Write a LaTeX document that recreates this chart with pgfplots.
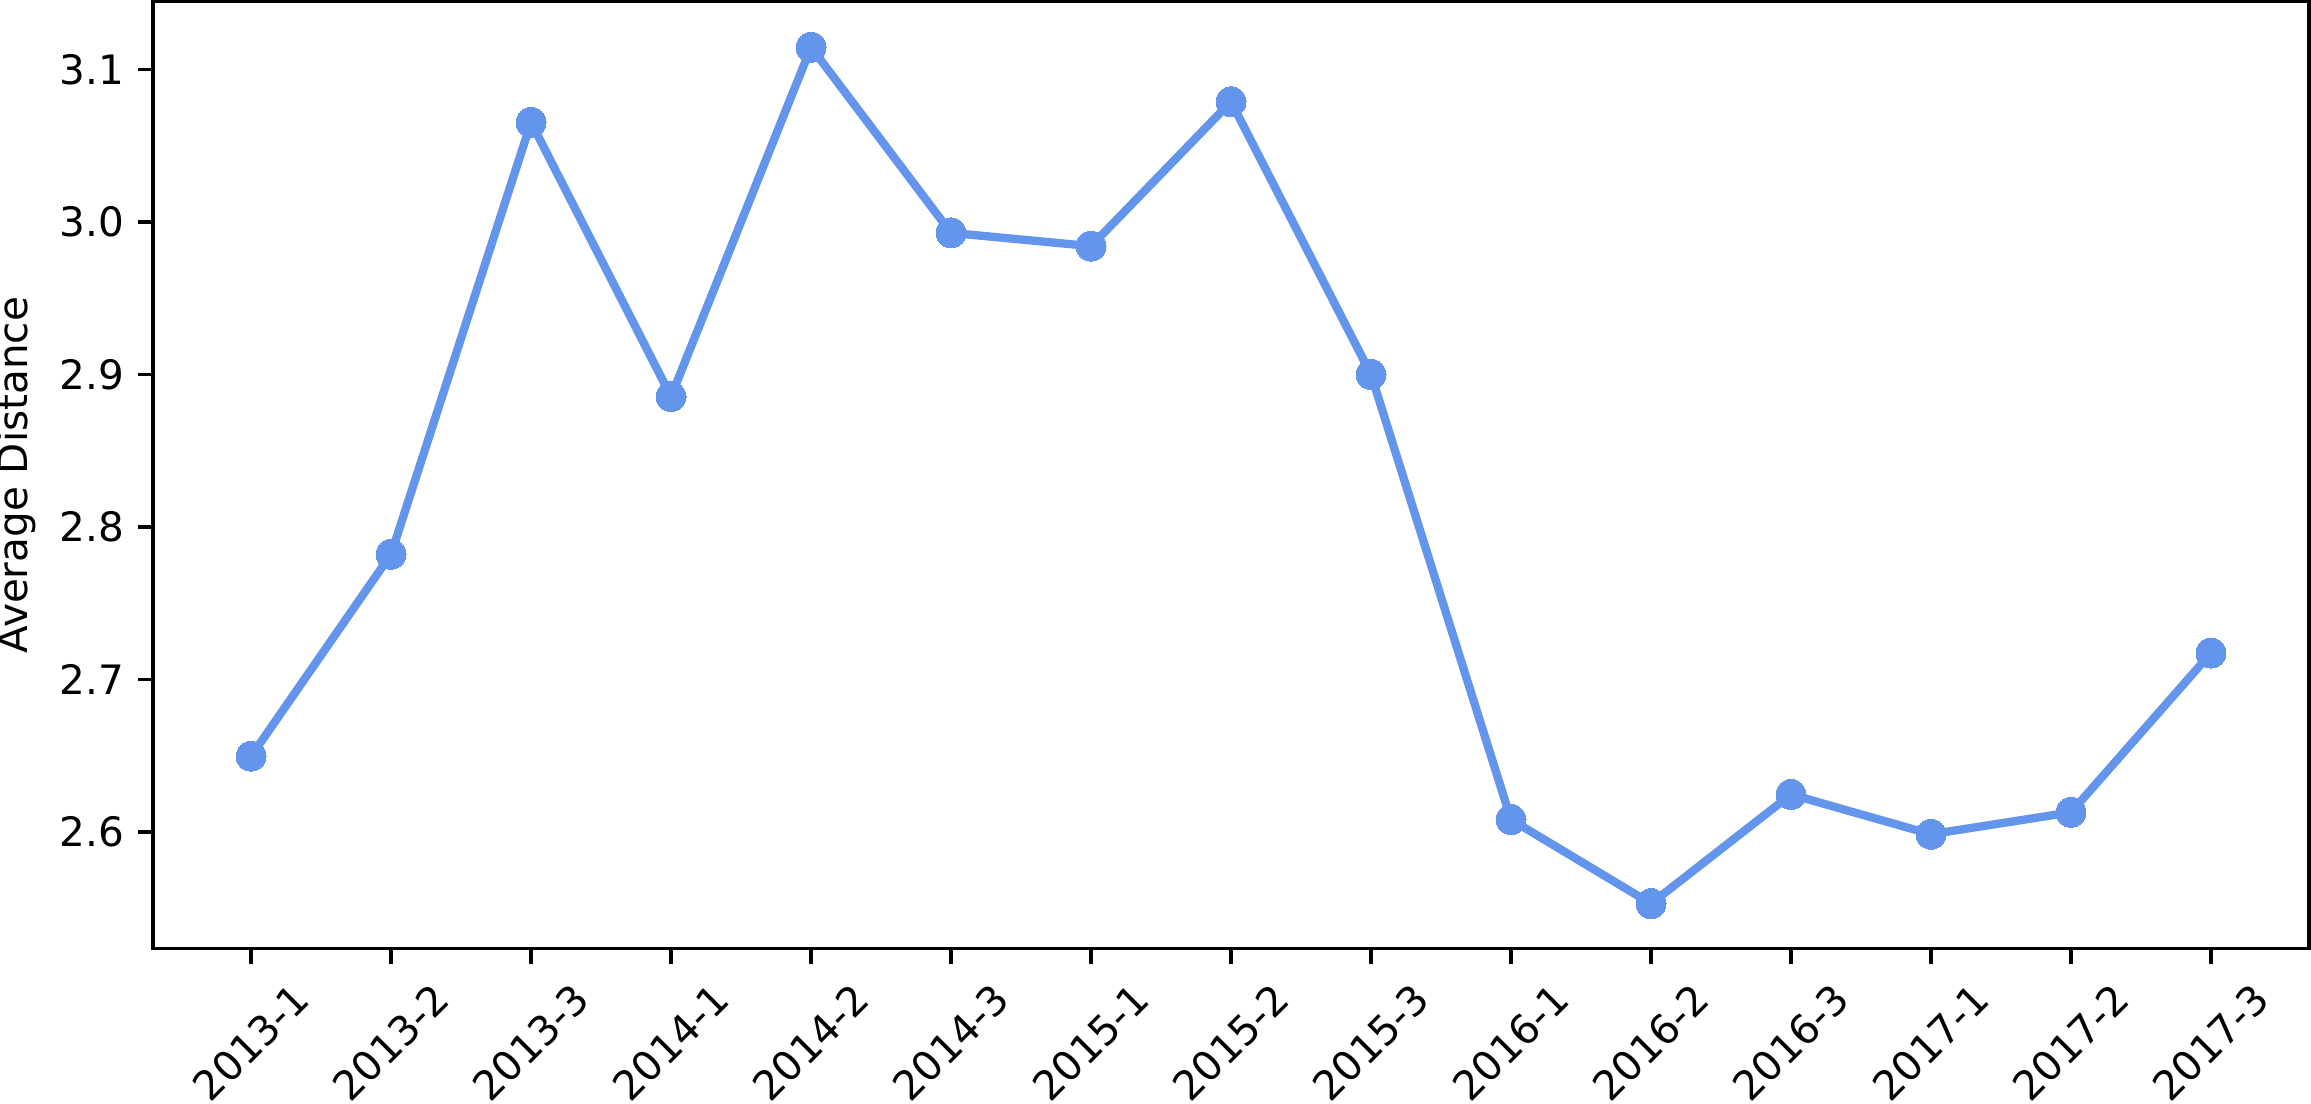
\documentclass[border=0pt]{standalone}
\usepackage{pgfplots}
\pgfplotsset{compat=1.18}
\usepackage{fontspec}
\setmainfont{DejaVu Sans}
\definecolor{cfblue}{HTML}{6495ED}
\tikzset{xl/.style={font=\fontsize{10}{12}\selectfont, inner sep=0pt, yshift=-23.2pt, rotate=45, anchor=center}}
\begin{document}
\begin{tikzpicture}
\begin{axis}[
  name=ax,
  clip=false,
  scale only axis,
  width=532.3pt, height=233.9pt,
  xmin=-0.7, xmax=14.7,
  ymin=2.5235, ymax=3.1446,
  xtick={0,...,14},
  xticklabels={},
  ytick={2.6,2.7,2.8,2.9,3.0,3.1},
  yticklabel style={/pgf/number format/fixed, /pgf/number format/fixed zerofill, /pgf/number format/precision=1},
  /pgf/number format/assume math mode=true,
  tick align=outside,
  tick pos=left,
  major tick length=3.63pt,
  axis line style={line width=0.82pt},
  every tick/.style={black, line width=0.82pt},
  ylabel={Average Distance},
  ylabel style={at={(axis description cs:-0.0633,0.5)}, anchor=center},
  tick label style={font=\fontsize{10}{12}\selectfont},
  label style={font=\fontsize{10}{12}\selectfont},
]
\addplot[color=cfblue, line width=2.05pt, mark=*, mark size=3.7pt, mark options={fill=cfblue, draw=cfblue, line width=0pt}] coordinates {
(0,2.6498) (1,2.7822) (2,3.0654) (3,2.8856) (4,3.1146) (5,2.9929) (6,2.9842) (7,3.0789) (8,2.9001) (9,2.6082) (10,2.5531) (11,2.6247) (12,2.5986) (13,2.6130) (14,2.7174)
};
\node[xl] at (axis cs:0,2.5235) {2013-1};
\node[xl] at (axis cs:1,2.5235) {2013-2};
\node[xl] at (axis cs:2,2.5235) {2013-3};
\node[xl] at (axis cs:3,2.5235) {2014-1};
\node[xl] at (axis cs:4,2.5235) {2014-2};
\node[xl] at (axis cs:5,2.5235) {2014-3};
\node[xl] at (axis cs:6,2.5235) {2015-1};
\node[xl] at (axis cs:7,2.5235) {2015-2};
\node[xl] at (axis cs:8,2.5235) {2015-3};
\node[xl] at (axis cs:9,2.5235) {2016-1};
\node[xl] at (axis cs:10,2.5235) {2016-2};
\node[xl] at (axis cs:11,2.5235) {2016-3};
\node[xl] at (axis cs:12,2.5235) {2017-1};
\node[xl] at (axis cs:13,2.5235) {2017-2};
\node[xl] at (axis cs:14,2.5235) {2017-3};
\end{axis}
\pgfresetboundingbox
\path[use as bounding box] ([xshift=-37.8pt, yshift=-38.1pt]ax.south west) rectangle ([xshift=0.5pt, yshift=0.37pt]ax.north east);
\end{tikzpicture}
\end{document}
